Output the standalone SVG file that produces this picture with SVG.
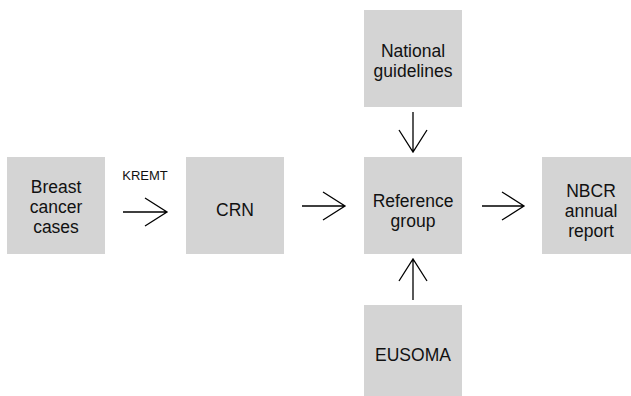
<svg xmlns="http://www.w3.org/2000/svg" width="631" height="396" viewBox="0 0 631 396">
<style>
.box{fill:#d4d4d4}
.t{font-family:"Liberation Sans",Arial,sans-serif;font-size:17.5px;fill:#111;text-anchor:middle}
.lbl{font-family:"Liberation Sans",Arial,sans-serif;font-size:13px;fill:#111;text-anchor:middle}
.ln{stroke:#000;stroke-width:1.3;fill:none}
</style>
<rect width="631" height="396" fill="#fff"/>
<g id="breast"><rect class="box" x="7" y="157" width="98" height="97"/><text class="t" x="56" y="193">Breast</text><text class="t" x="56" y="213">cancer</text><text class="t" x="56" y="233">cases</text></g>
<g id="crn"><rect class="box" x="186" y="157" width="98" height="97"/><text class="t" x="235" y="216">CRN</text></g>
<g id="national"><rect class="box" x="364" y="10" width="98" height="97"/><text class="t" x="413" y="57">National</text><text class="t" x="413" y="77">guidelines</text></g>
<g id="reference"><rect class="box" x="364" y="157" width="98" height="97"/><text class="t" x="413" y="207">Reference</text><text class="t" x="413" y="227">group</text></g>
<g id="nbcr"><rect class="box" x="542" y="157" width="98" height="97"/><text class="t" x="591" y="197">NBCR</text><text class="t" x="591" y="217">annual</text><text class="t" x="591" y="237">report</text></g>
<g id="eusoma"><rect class="box" x="364" y="305" width="98" height="97"/><text class="t" x="413" y="361">EUSOMA</text></g>
<g id="connectors">
<path class="ln" d="M123 212H167M145 198L167 212L145 226"/>
<text class="lbl" x="145" y="180">KREMT</text>
<path class="ln" d="M302 206H345M323 192L345 206L323 220"/>
<path class="ln" d="M482 206H524M502 192L524 206L502 220"/>
<path class="ln" d="M413 112V152M399 130L413 152L427 130"/>
<path class="ln" d="M413 300V259M399 281L413 259L427 281"/>
</g>
</svg>
